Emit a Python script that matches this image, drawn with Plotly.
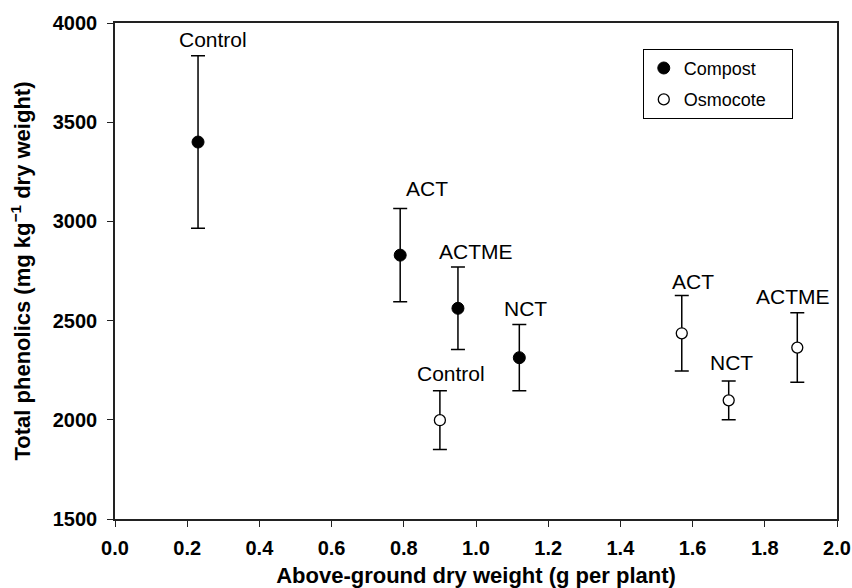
import plotly.graph_objects as go

# Compost series
comp_x = [0.23, 0.79, 0.95, 1.12]
comp_y = [3400, 2830, 2562, 2313]
comp_err = [435, 235, 208, 167]
comp_labels = ["Control", "ACT", "ACTME", "NCT"]

# Osmocote series
osmo_x = [0.90, 1.57, 1.70, 1.89]
osmo_y = [1998, 2436, 2098, 2364]
osmo_err = [148, 190, 98, 175]
osmo_labels = ["Control", "ACT", "NCT", "ACTME"]

# label pixel offsets (style only)
comp_lab_dx = [15, 27, 18, 6]
comp_lab_dy = [16, 20, 16, 16]
osmo_lab_dx = [11, 11, 3, -4]
osmo_lab_dy = [17, 14, 18, 16]

x_ticks = [0.0, 0.2, 0.4, 0.6, 0.8, 1.0, 1.2, 1.4, 1.6, 1.8, 2.0]
y_ticks = [1500, 2000, 2500, 3000, 3500, 4000]

FONT = "Liberation Sans, Arial, Helvetica, sans-serif"
NB = "\u00a0"

fig = go.Figure()
fig.add_trace(go.Scatter(
    x=comp_x, y=comp_y, mode="markers", name="Compost" + NB * 4,
    legendgroup="c",
    marker=dict(color="black", size=12, line=dict(color="black", width=1)),
    error_y=dict(type="data", array=comp_err, visible=True, color="black",
                 thickness=1.5, width=7),
))
fig.add_trace(go.Scatter(
    x=osmo_x, y=osmo_y, mode="markers", name="Osmocote" + NB * 4,
    legendgroup="o",
    marker=dict(color="white", size=11, line=dict(color="black", width=1.3)),
    error_y=dict(type="data", array=osmo_err, visible=True, color="black",
                 thickness=1.5, width=7),
))

annotations = []
for xs, ys, es, labs, dxs, dys in [
    (comp_x, comp_y, comp_err, comp_labels, comp_lab_dx, comp_lab_dy),
    (osmo_x, osmo_y, osmo_err, osmo_labels, osmo_lab_dx, osmo_lab_dy),
]:
    for x, y, e, lab, dx, dy in zip(xs, ys, es, labs, dxs, dys):
        annotations.append(dict(
            x=x, y=y + e, text=lab, showarrow=False, xanchor="center",
            yanchor="middle", xshift=dx, yshift=dy,
            font=dict(family=FONT, size=21, color="black"),
        ))

fig.update_layout(
    width=852, height=588,
    margin=dict(l=115, r=15, t=23, b=69),
    paper_bgcolor="white", plot_bgcolor="white",
    font=dict(family=FONT, color="black"),
    annotations=annotations,
    legend=dict(
        x=0.731, y=0.948, xanchor="left", yanchor="top",
        bordercolor="black", borderwidth=1, bgcolor="white",
        font=dict(family=FONT, size=18, color="black"),
        tracegroupgap=5, itemwidth=30,
    ),
    xaxis=dict(
        range=[0, 2.0], tickvals=x_ticks,
        ticktext=[f"{v:.1f}" for v in x_ticks],
        showgrid=False, zeroline=False, automargin=False,
        showline=True, linecolor="#222", linewidth=1.5, mirror=True,
        ticks="outside", ticklen=6, tickcolor="#222", tickwidth=1.3,
        ticklabelstandoff=4,
        tickfont=dict(family=FONT, size=20, color="black", weight="bold"),
        title=dict(text="Above-ground dry weight (g per plant)", standoff=12,
                   font=dict(family=FONT, size=22, color="black", weight="bold")),
    ),
    yaxis=dict(
        range=[1500, 4000], tickvals=y_ticks,
        showgrid=False, zeroline=False, automargin=False,
        showline=True, linecolor="#222", linewidth=1.5, mirror=True,
        ticks="outside", ticklen=6, tickcolor="#222", tickwidth=1.3,
        ticklabelstandoff=6,
        tickfont=dict(family=FONT, size=20, color="black", weight="bold"),
        title=dict(text="Total phenolics (mg kg<sup>−1</sup> dry weight)", standoff=16,
                   font=dict(family=FONT, size=22, color="black", weight="bold")),
    ),
    showlegend=True,
)

fig.write_html(
    "out.html",
    config={"displayModeBar": False},
    post_script="document.body.style.margin='0';document.body.style.overflow='hidden';",
)
